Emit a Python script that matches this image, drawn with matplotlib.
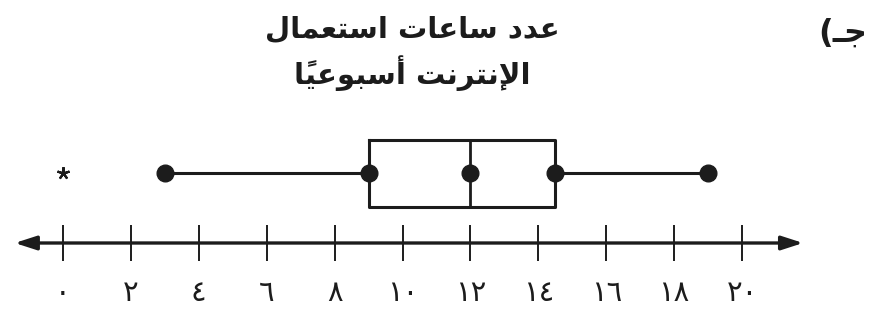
import matplotlib
matplotlib.use('Agg')
import matplotlib.pyplot as plt

# data
title_lines = ['عدد ساعات استعمال', 'الإنترنت أسبوعيًا']
part_label = 'جـ'
tick_values = [0, 2, 4, 6, 8, 10, 12, 14, 16, 18, 20]
tick_labels = ['٠', '٢', '٤', '٦', '٨', '١٠', '١٢', '١٤', '١٦', '١٨', '٢٠']
whisker_low = 3
q1 = 9
median = 12
q3 = 14.5
whisker_high = 19
outliers = [0]

# contextual forms: isolated, final, initial, medial
FORMS = {
    'ا': (0xFE8D, 0xFE8E), 'أ': (0xFE83, 0xFE84), 'إ': (0xFE87, 0xFE88),
    'د': (0xFEA9, 0xFEAA), 'ر': (0xFEAD, 0xFEAE), 'و': (0xFEED, 0xFEEE),
    'ب': (0xFE8F, 0xFE90, 0xFE91, 0xFE92), 'ت': (0xFE95, 0xFE96, 0xFE97, 0xFE98),
    'ج': (0xFE9D, 0xFE9E, 0xFE9F, 0xFEA0), 'س': (0xFEB1, 0xFEB2, 0xFEB3, 0xFEB4),
    'ع': (0xFEC9, 0xFECA, 0xFECB, 0xFECC), 'ل': (0xFEDD, 0xFEDE, 0xFEDF, 0xFEE0),
    'م': (0xFEE1, 0xFEE2, 0xFEE3, 0xFEE4), 'ن': (0xFEE5, 0xFEE6, 0xFEE7, 0xFEE8),
    'ي': (0xFEF1, 0xFEF2, 0xFEF3, 0xFEF4), 'ـ': (0x640, 0x640, 0x640, 0x640),
}
LAM_ALEF = {'ا': (0xFEFB, 0xFEFC), 'أ': (0xFEF7, 0xFEF8), 'إ': (0xFEF9, 0xFEFA)}


def shape(text):
    # matplotlib does no arabic shaping, so pick the forms and reverse by hand
    clusters = []
    for ch in text:
        if '\u064B' <= ch <= '\u0652' and clusters:
            clusters[-1][1] += ch
        else:
            clusters.append([ch, ''])
    merged = []
    i = 0
    while i < len(clusters):
        c, m = clusters[i]
        if c == 'ل' and i + 1 < len(clusters) and clusters[i + 1][0] in LAM_ALEF:
            merged.append(['LA' + clusters[i + 1][0], m + clusters[i + 1][1]])
            i += 2
        else:
            merged.append([c, m])
            i += 1

    def dual(c):
        return c in FORMS and len(FORMS[c]) == 4

    def joinable(c):
        return c in FORMS or c.startswith('LA')

    out = []
    for i, (c, m) in enumerate(merged):
        prev = merged[i - 1][0] if i > 0 else ' '
        nxt = merged[i + 1][0] if i + 1 < len(merged) else ' '
        after = dual(prev) and joinable(c)
        if c.startswith('LA'):
            g = chr(LAM_ALEF[c[2]][1 if after else 0])
        elif c in FORMS:
            f = FORMS[c]
            before = len(f) == 4 and joinable(nxt)
            g = chr(f[(1 if after else 0) + (2 if before else 0)])
        else:
            g = c
        # mark goes first so it lands on the left edge of its letter
        out.append(m + g)
    return ''.join(reversed(out))


ink = '#1c1c1c'
fig = plt.figure(figsize=(8.71, 3.27), dpi=100)
ax = fig.add_axes([0, 0, 1, 1])
px = 33.95  # pixels per hour
ax.set_xlim(-63 / px, (871 - 63) / px)
ax.set_ylim(327, 0)
ax.axis('off')

stats = [dict(med=median, q1=q1, q3=q3, whislo=whisker_low, whishi=whisker_high, fliers=outliers)]
ax.bxp(stats, positions=[173], widths=[67], orientation='horizontal', showcaps=False,
       boxprops=dict(color=ink, lw=2.2), medianprops=dict(color=ink, lw=2.0),
       whiskerprops=dict(color=ink, lw=2.2),
       flierprops=dict(marker=(5, 2, 0), markersize=9, markeredgecolor=ink, markeredgewidth=1.6))
ax.plot([whisker_low, q1, median, q3, whisker_high], [173] * 5, 'o', color=ink, ms=12, ls='none')

# number line
ax.annotate('', xy=(-1.42, 243), xytext=(21.8, 243),
            arrowprops=dict(arrowstyle='<|-|>,head_length=1.3,head_width=0.42', lw=2.4,
                            color=ink, shrinkA=0, shrinkB=0))
ax.vlines(tick_values, 225, 261, color=ink, lw=1.4)
for v, lab in zip(tick_values, tick_labels):
    ax.text(v, 293, lab, ha='center', va='center', fontsize=21, color=ink,
            family='DejaVu Sans')

for y, line in zip([30, 73], title_lines):
    fig.text(412 / 871, 1 - y / 327, shape(line), ha='center', va='center', fontsize=21,
             fontweight='bold', color=ink, family='DejaVu Sans')
fig.text(843 / 871, 1 - 33 / 327, '(' + shape(part_label), ha='center', va='center',
         fontsize=23, fontweight='bold', color=ink, family='DejaVu Sans')

fig.savefig('out.png', dpi=100)
